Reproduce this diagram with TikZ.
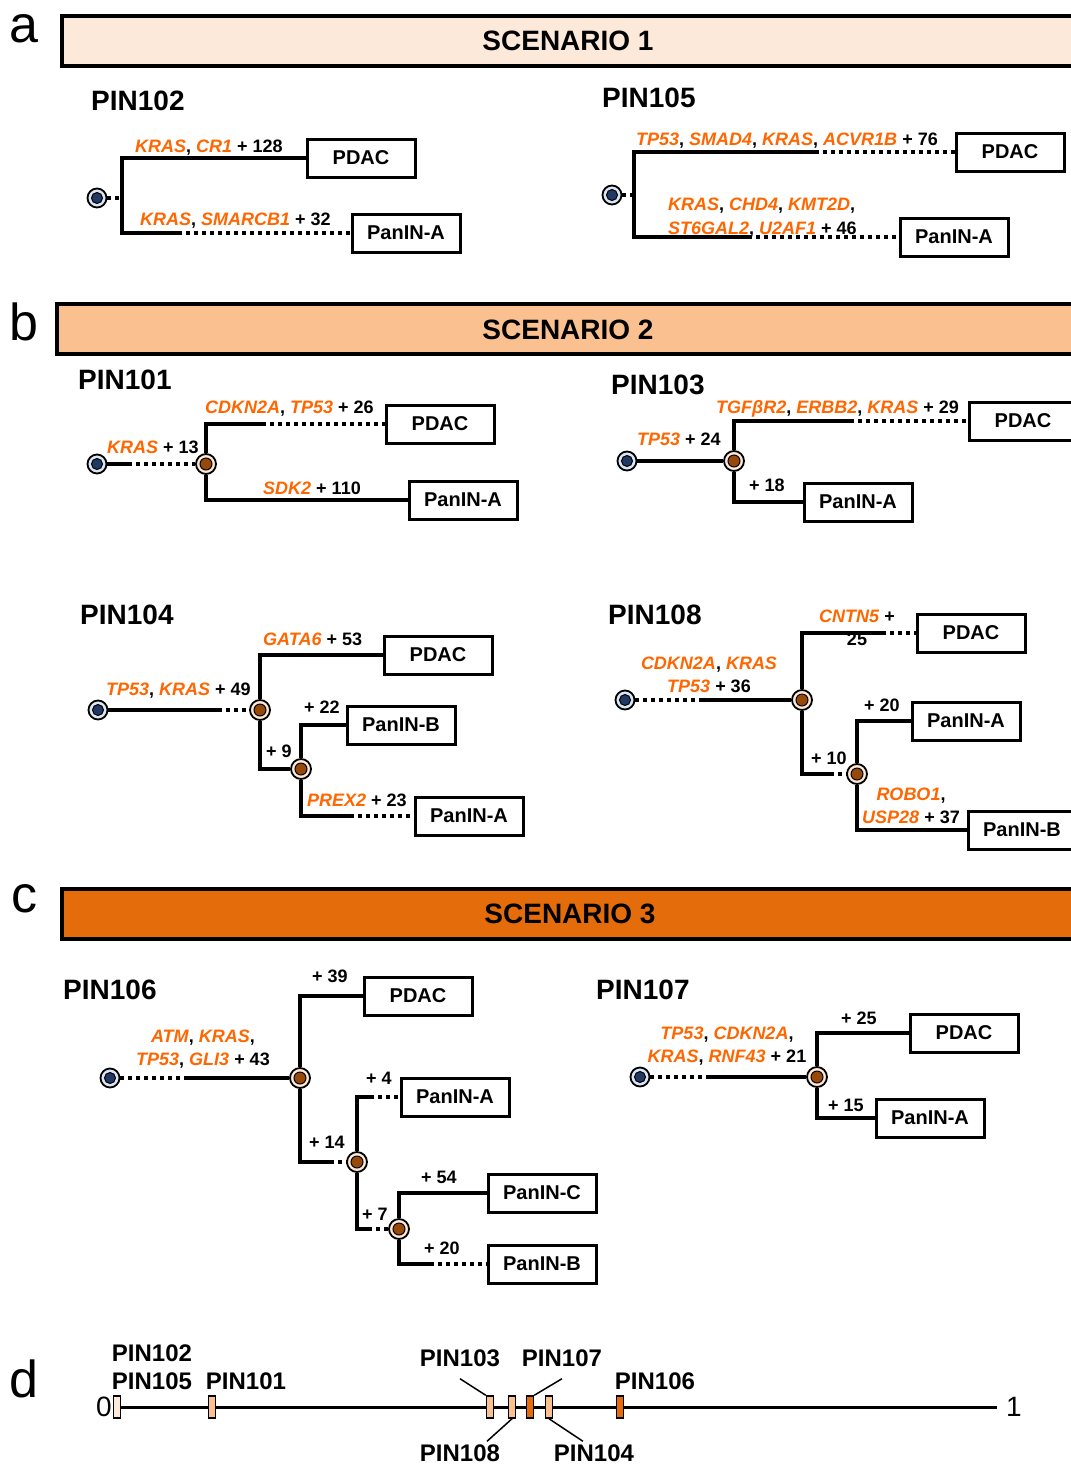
\documentclass[tikz,border=0pt]{standalone}
\usepackage{fontspec}
\setmainfont{Liberation Sans}
\usepackage{xcolor}
\definecolor{scA}{HTML}{FDE9D9}
\definecolor{scB}{HTML}{FAC090}
\definecolor{scC}{HTML}{E46C0A}
\definecolor{geneorange}{HTML}{FF6600}
\definecolor{rootin}{HTML}{1F3864}
\definecolor{rootout}{HTML}{DCE6F2}
\definecolor{forkin}{HTML}{984807}
\newcommand{\gene}[1]{\textcolor{geneorange}{\textit{#1}}}

\begin{document}
\begin{tikzpicture}[x=1pt,y=-1pt]
	\tikzset{
		lesion/.style = {draw, line width=3pt, minimum width=108pt, minimum height=38pt, inner sep=0pt, font=\fontsize{20}{22}\selectfont\bfseries},
		root/.style = {circle, draw, line width=1.8pt, fill=rootout, minimum size=19pt, inner sep=0pt, path picture={\filldraw[fill=rootin, line width=1pt] (path picture bounding box.center) circle (5.5pt);}},
		fork/.style = {circle, draw, line width=1.8pt, fill=scA, minimum size=20pt, inner sep=0pt, path picture={\filldraw[fill=forkin, line width=1pt] (path picture bounding box.center) circle (6pt);}},
		branch/.style = {line width=3.2pt},
		dotline/.style = {line width=3.2pt, dash pattern=on 4pt off 4pt},
		lab/.style = {inner sep=0pt, anchor=base west, font=\fontsize{18}{23}\selectfont\bfseries},
		labs/.style = {inner sep=0pt, align=center, anchor=north, font=\fontsize{18}{23}\selectfont\bfseries},
		pinlabel/.style = {inner sep=0pt, anchor=west, font=\fontsize{28}{30}\selectfont\bfseries},
		banner/.style = {line width=4pt},
		bannertext/.style = {inner sep=0pt, font=\fontsize{28}{30}\selectfont\bfseries},
		panel/.style = {inner sep=0pt, anchor=base, font=\fontsize{52}{56}\selectfont},
		pinmark/.style = {draw, line width=1.5pt, minimum width=7pt, minimum height=22pt, inner sep=0pt},
		leader/.style = {line width=1.5pt},
		axnum/.style = {inner sep=0pt, font=\fontsize{28}{30}\selectfont},
		plab/.style = {inner sep=0pt, font=\fontsize{24}{26}\selectfont\bfseries}
	}
	\useasboundingbox (0,0) rectangle (1071,1465);

	% scenario banners
	\node[panel] (pa) at (24,42) {a};
	\draw[banner, fill=scA] (62,16) rectangle (1090,66);
	\node[bannertext] (s1) at (568,41) {SCENARIO 1};
	\node[panel] (pb) at (24,340) {b};
	\draw[banner, fill=scB] (57,304) rectangle (1090,354);
	\node[bannertext] (s2) at (568,330) {SCENARIO 2};
	\node[panel] (pc) at (24,912) {c};
	\draw[banner, fill=scC] (62,889) rectangle (1090,939);
	\node[bannertext] (s3) at (570,914) {SCENARIO 3};

	% PIN102
	\node[pinlabel] (p102) at (91,101) {PIN102};
	\node[root] (r102) at (97,198) {};
	\coordinate (j102) at (122,198);
	\coordinate (d102) at (178,233);
	\node[lesion] (b102p) at (361,158) {PDAC};
	\node[lesion] (b102a) at (406,233) {PanIN-A};
	\draw[dotline] (r102) -- (j102);
	\draw[branch] (j102) |- (b102p.west);
	\draw[branch] (j102) |- (d102);
	\draw[dotline] (d102) -- (b102a.west);
	\node[lab] (g102p) at (135,152) {\gene{KRAS}, \gene{CR1} + 128};
	\node[lab] (g102a) at (140,225) {\gene{KRAS}, \gene{SMARCB1} + 32};

	% PIN105
	\node[pinlabel] (p105) at (602,98) {PIN105};
	\node[root] (r105) at (612,195) {};
	\coordinate (j105) at (634,195);
	\coordinate (d105p) at (815,152);
	\coordinate (d105a) at (748,237);
	\node[lesion] (b105p) at (1010,152) {PDAC};
	\node[lesion] (b105a) at (954,237) {PanIN-A};
	\draw[dotline] (r105) -- (j105);
	\draw[branch] (j105) |- (d105p);
	\draw[dotline] (d105p) -- (b105p.west);
	\draw[branch] (j105) |- (d105a);
	\draw[dotline] (d105a) -- (b105a.west);
	\node[lab] (g105p) at (636,145) {\gene{TP53}, \gene{SMAD4}, \gene{KRAS}, \gene{ACVR1B} + 76};
	\node[lab] (g105a) at (668,210) {\gene{KRAS}, \gene{CHD4}, \gene{KMT2D},};
	\node[lab] (g105b) at (668,234) {\gene{ST6GAL2}, \gene{U2AF1} + 46};

	% PIN101
	\node[pinlabel] (p101) at (78,380) {PIN101};
	\node[root] (r101) at (97,464) {};
	\coordinate (c101) at (128,464);
	\node[fork] (f101) at (206,464) {};
	\coordinate (d101p) at (262,424);
	\node[lesion] (b101p) at (440,424) {PDAC};
	\node[lesion] (b101a) at (463,500) {PanIN-A};
	\draw[branch] (r101) -- (c101);
	\draw[dotline] (c101) -- (f101);
	\draw[branch] (f101) |- (d101p);
	\draw[dotline] (d101p) -- (b101p.west);
	\draw[branch] (f101) |- (b101a.west);
	\node[lab] (g101p) at (205,413) {\gene{CDKN2A}, \gene{TP53} + 26};
	\node[lab] (g101) at (107,453) {\gene{KRAS} + 13};
	\node[lab] (g101a) at (263,494) {\gene{SDK2} + 110};

	% PIN103
	\node[pinlabel] (p103) at (611,385) {PIN103};
	\node[root] (r103) at (627,461) {};
	\node[fork] (f103) at (734,461) {};
	\coordinate (d103p) at (850,421);
	\node[lesion] (b103p) at (1023,421) {PDAC};
	\node[lesion] (b103a) at (858,502) {PanIN-A};
	\draw[branch] (r103) -- (f103);
	\draw[branch] (f103) |- (d103p);
	\draw[dotline] (d103p) -- (b103p.west);
	\draw[branch] (f103) |- (b103a.west);
	\node[lab] (g103p) at (716,413) {\gene{TGFβR2}, \gene{ERBB2}, \gene{KRAS} + 29};
	\node[lab] (g103) at (637,445) {\gene{TP53} + 24};
	\node[lab] (g103a) at (749,491) {+ 18};

	% PIN104
	\node[pinlabel] (p104) at (80,615) {PIN104};
	\node[root] (r104) at (98,710) {};
	\coordinate (c104) at (218,710);
	\node[fork] (f104) at (260,710) {};
	\node[fork] (h104) at (301,769) {};
	\coordinate (d104a) at (350,816);
	\node[lesion] (b104p) at (438,655) {PDAC};
	\node[lesion] (b104b) at (401,725) {PanIN-B};
	\node[lesion] (b104a) at (469,816) {PanIN-A};
	\draw[branch] (r104) -- (c104);
	\draw[dotline] (c104) -- (f104);
	\draw[branch] (f104) |- (b104p.west);
	\draw[branch] (f104) |- (h104);
	\draw[branch] (h104) |- (b104b.west);
	\draw[branch] (h104) |- (d104a);
	\draw[dotline] (d104a) -- (b104a.west);
	\node[lab] (g104p) at (263,645) {\gene{GATA6} + 53};
	\node[lab] (g104) at (106,695) {\gene{TP53}, \gene{KRAS} + 49};
	\node[lab] (g104b) at (304,713) {+ 22};
	\node[lab] (g104h) at (266,757) {+ 9};
	\node[lab] (g104a) at (307,806) {\gene{PREX2} + 23};

	% PIN108
	\node[pinlabel] (p108) at (608,615) {PIN108};
	\node[root] (r108) at (625,700) {};
	\coordinate (c108) at (700,700);
	\node[fork] (f108) at (802,700) {};
	\coordinate (d108p) at (882,633);
	\coordinate (d108h) at (830,774);
	\node[fork] (h108) at (857,774) {};
	\node[lesion] (b108p) at (971,633) {PDAC};
	\node[lesion] (b108a) at (966,721) {PanIN-A};
	\node[lesion] (b108b) at (1022,830) {PanIN-B};
	\draw[dotline] (r108) -- (c108);
	\draw[branch] (c108) -- (f108);
	\draw[branch] (f108) |- (d108p);
	\draw[dotline] (d108p) -- (b108p.west);
	\draw[branch] (f108) |- (d108h);
	\draw[dotline] (d108h) -- (h108);
	\draw[branch] (h108) |- (b108a.west);
	\draw[branch] (h108) |- (b108b.west);
	\node[labs] (g108p) at (857,610) {\gene{CNTN5} +\\25};
	\node[labs] (g108) at (709,657) {\gene{CDKN2A}, \gene{KRAS}\\\gene{TP53} + 36};
	\node[lab] (g108a) at (864,711) {+ 20};
	\node[lab] (g108h) at (811,764) {+ 10};
	\node[labs] (g108b) at (911,788) {\gene{ROBO1},\\\gene{USP28} + 37};

	% PIN106
	\node[pinlabel] (p106) at (63,990) {PIN106};
	\node[root] (r106) at (110,1078) {};
	\coordinate (c106) at (187,1078);
	\node[fork] (f106) at (300,1078) {};
	\coordinate (d106h) at (330,1162);
	\node[fork] (h106) at (357,1162) {};
	\coordinate (d106a) at (370,1097);
	\coordinate (d106k) at (368,1229);
	\node[fork] (k106) at (399,1229) {};
	\coordinate (d106b) at (430,1264);
	\node[lesion] (b106p) at (418,996) {PDAC};
	\node[lesion] (b106a) at (455,1097) {PanIN-A};
	\node[lesion] (b106c) at (542,1193) {PanIN-C};
	\node[lesion] (b106b) at (542,1264) {PanIN-B};
	\draw[dotline] (r106) -- (c106);
	\draw[branch] (c106) -- (f106);
	\draw[branch] (f106) |- (b106p.west);
	\draw[branch] (f106) |- (d106h);
	\draw[dotline] (d106h) -- (h106);
	\draw[branch] (h106) |- (d106a);
	\draw[dotline] (d106a) -- (b106a.west);
	\draw[branch] (h106) |- (d106k);
	\draw[dotline] (d106k) -- (k106);
	\draw[branch] (k106) |- (b106c.west);
	\draw[branch] (k106) |- (d106b);
	\draw[dotline] (d106b) -- (b106b.west);
	\node[lab] (g106p) at (312,982) {+ 39};
	\node[labs] (g106) at (203,1030) {\gene{ATM}, \gene{KRAS},\\\gene{TP53}, \gene{GLI3} + 43};
	\node[lab] (g106a) at (366,1084) {+ 4};
	\node[lab] (g106h) at (309,1148) {+ 14};
	\node[lab] (g106c) at (421,1183) {+ 54};
	\node[lab] (g106k) at (362,1220) {+ 7};
	\node[lab] (g106b) at (424,1254) {+ 20};

	% PIN107
	\node[pinlabel] (p107) at (596,990) {PIN107};
	\node[root] (r107) at (640,1077) {};
	\coordinate (c107) at (706,1077);
	\node[fork] (f107) at (817,1077) {};
	\node[lesion] (b107p) at (964,1033) {PDAC};
	\node[lesion] (b107a) at (930,1118) {PanIN-A};
	\draw[dotline] (r107) -- (c107);
	\draw[branch] (c107) -- (f107);
	\draw[branch] (f107) |- (b107p.west);
	\draw[branch] (f107) |- (b107a.west);
	\node[lab] (g107p) at (841,1024) {+ 25};
	\node[labs] (g107) at (727,1027) {\gene{TP53}, \gene{CDKN2A},\\\gene{KRAS}, \gene{RNF43} + 21};
	\node[lab] (g107a) at (828,1111) {+ 15};

	% timeline
	\node[panel] (pd) at (24,1397) {d};
	\coordinate (ax0) at (117,1407);
	\coordinate (ax1) at (997,1407);
	\draw[line width=3pt] (ax0) -- (ax1);
	\node[axnum, anchor=east] (n0) at (112,1407) {0};
	\node[axnum, anchor=west] (n1) at (1006,1407) {1};
	\node[pinmark, fill=scA] (m102) at (117,1407) {};
	\node[pinmark, fill=scB] (m101) at (212,1407) {};
	\node[pinmark, fill=scB] (m103) at (490,1407) {};
	\node[pinmark, fill=scB] (m108) at (512,1407) {};
	\node[pinmark, fill=scC] (m107) at (530,1407) {};
	\node[pinmark, fill=scB] (m104) at (549,1407) {};
	\node[pinmark, fill=scC] (m106) at (620,1407) {};
	\node[plab] (l102) at (152,1353) {PIN102};
	\node[plab] (l105) at (152,1381) {PIN105};
	\node[plab] (l101) at (246,1381) {PIN101};
	\node[plab] (l103) at (460,1358) {PIN103};
	\node[plab] (l107) at (562,1358) {PIN107};
	\node[plab] (l106) at (655,1381) {PIN106};
	\node[plab] (l108) at (460,1453) {PIN108};
	\node[plab] (l104) at (594,1453) {PIN104};
	\draw[leader] (l103.south) ++(0,12) -- (m103.north west);
	\draw[leader] (l107.south) ++(0,12) -- (m107.north east);
	\draw[leader] (m108.south) -- ([xshift=27pt,yshift=3pt]l108.north);
	\draw[leader] (m104.south) -- ([xshift=-11pt,yshift=3pt]l104.north);
\end{tikzpicture}
\end{document}
